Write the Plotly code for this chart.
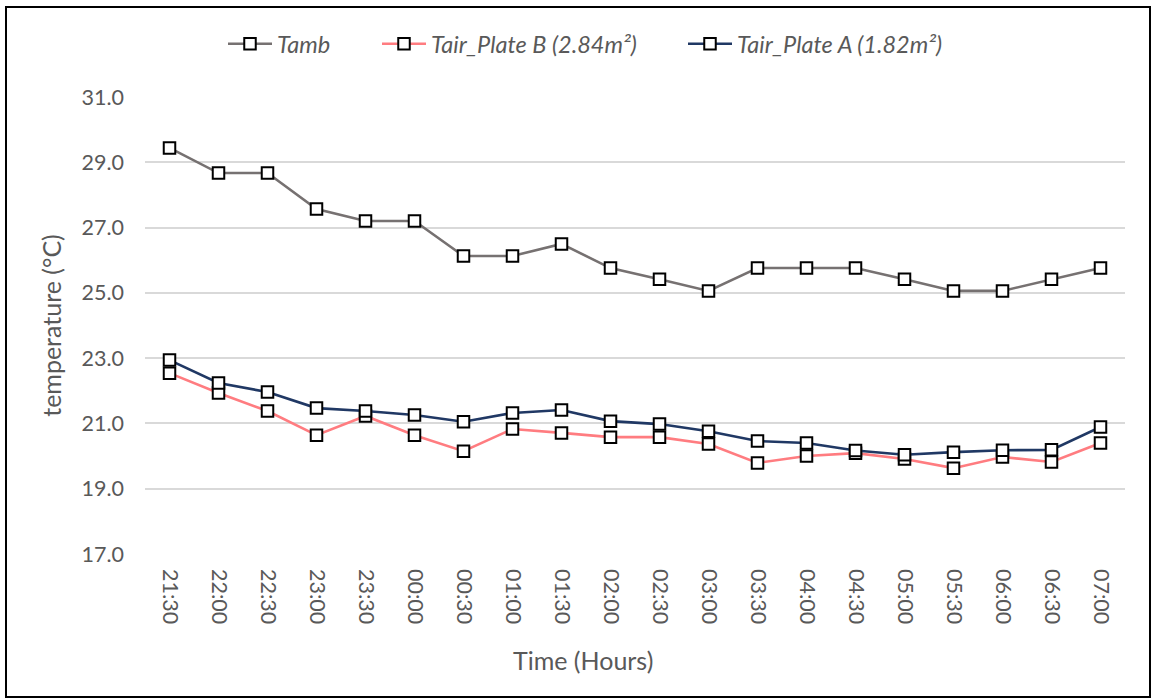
import plotly.graph_objects as go

times = ["21:30", "22:00", "22:30", "23:00", "23:30", "00:00", "00:30", "01:00", "01:30", "02:00",
         "02:30", "03:00", "03:30", "04:00", "04:30", "05:00", "05:30", "06:00", "06:30", "07:00"]

tamb = [29.44, 28.67, 28.67, 27.57, 27.2, 27.2, 26.13, 26.13, 26.5, 25.76,
        25.42, 25.06, 25.76, 25.76, 25.76, 25.42, 25.06, 25.06, 25.42, 25.76]

plate_b = [22.54, 21.93, 21.38, 20.64, 21.23, 20.64, 20.15, 20.83, 20.71, 20.58,
           20.58, 20.37, 19.79, 20.0, 20.09, 19.91, 19.63, 19.97, 19.82, 20.4]

plate_a = [22.94, 22.24, 21.96, 21.47, 21.38, 21.26, 21.05, 21.32, 21.41, 21.07,
           20.98, 20.76, 20.46, 20.4, 20.17, 20.04, 20.12, 20.18, 20.19, 20.89]

names = ["Tamb", "Tair_Plate B (2.84m²)", "Tair_Plate A (1.82m²)"]
colors = ["#767171", "#FF7C80", "#203864"]
legend_ids = ["legend", "legend2", "legend3"]

FONT = "Lato"
TXT = "#595959"

L, R, T, B = 145, 29, 97, 144
W, H = 1154, 698
pw, ph = W - L - R, H - T - B


def px(x):
    return (x - L) / pw


def py(y):
    return (H - B - y) / ph


fig = go.Figure()
for vals, name, col, lg in zip([tamb, plate_b, plate_a], names, colors, legend_ids):
    fig.add_trace(go.Scatter(
        x=times, y=vals, name=name, mode="lines+markers", legend=lg,
        line=dict(color=col, width=2.6),
        marker=dict(symbol="square", size=11.5, color="white",
                    line=dict(color="black", width=2)),
    ))

leg_font = dict(family=FONT, size=23.5, color=TXT, style="italic")
leg_common = dict(orientation="h", xanchor="left", yanchor="middle", y=py(44),
                  font=leg_font, itemwidth=44, bgcolor="rgba(0,0,0,0)", borderwidth=0)

fig.update_layout(
    width=W, height=H,
    margin=dict(l=L, r=R, t=T, b=B, autoexpand=False),
    paper_bgcolor="white", plot_bgcolor="white",
    font=dict(family=FONT, color=TXT, size=21.5),
    showlegend=True,
    legend=dict(x=px(223), **leg_common),
    legend2=dict(x=px(377), **leg_common),
    legend3=dict(x=px(683), **leg_common),
    xaxis=dict(type="category", range=[-0.5, 19.5], showgrid=False, zeroline=False,
               showline=False, ticks="", tickangle=90, ticklabelstandoff=14,
               tickfont=dict(family=FONT, size=21.5, color=TXT)),
    yaxis=dict(range=[17, 31], tickvals=[17, 19, 21, 23, 25, 27, 29, 31],
               tickformat=".1f", showgrid=True, gridcolor="#D9D9D9", gridwidth=1.5,
               zeroline=False, showline=False, ticks="", ticklabelstandoff=20,
               tickfont=dict(family=FONT, size=21.5, color=TXT),
               title=dict(text="temperature (°C)", font=dict(family=FONT, size=25, color=TXT), standoff=12)),
    annotations=[dict(text="Time (Hours)", xref="paper", yref="paper", x=px(583), y=py(660),
                      xanchor="center", yanchor="middle", showarrow=False,
                      font=dict(family=FONT, size=25, color=TXT))],
    shapes=[dict(type="rect", xref="paper", yref="paper",
                 x0=px(6), x1=px(1150), y0=py(697), y1=py(7),
                 line=dict(color="black", width=2), fillcolor="rgba(0,0,0,0)", layer="below")],
)

fig.write_html("out.html", config={"displayModeBar": False},
               post_script="document.body.style.margin='0px';")
